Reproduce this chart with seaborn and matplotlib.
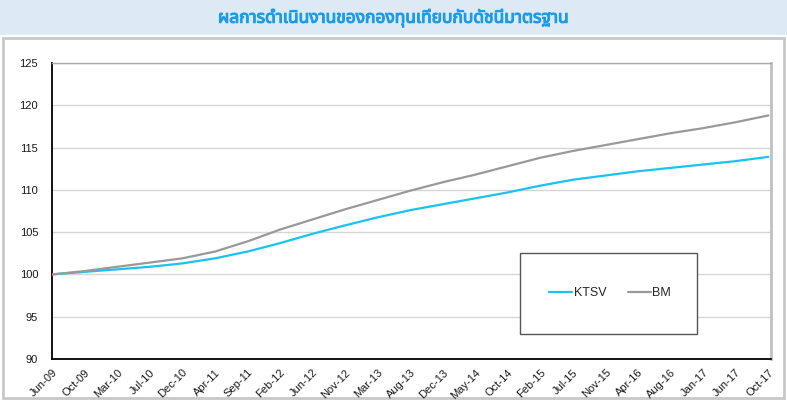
import numpy as np
import pandas as pd
import matplotlib
matplotlib.use("Agg")
import matplotlib.pyplot as plt
import matplotlib.patheffects as pe
import seaborn as sns
from matplotlib import font_manager
from matplotlib.patches import Rectangle
from matplotlib.lines import Line2D

# ---------------- data ----------------
title_text = "ผลการดำเนินงานของกองทุนเทียบกับดัชนีมาตรฐาน"
tick_labels = ["Jun-09", "Oct-09", "Mar-10", "Jul-10", "Dec-10", "Apr-11", "Sep-11",
               "Feb-12", "Jun-12", "Nov-12", "Mar-13", "Aug-13", "Dec-13", "May-14",
               "Oct-14", "Feb-15", "Jul-15", "Nov-15", "Apr-16", "Aug-16", "Jan-17",
               "Jun-17", "Oct-17"]
ktsv = [100.0, 100.3, 100.6, 100.9, 101.3, 101.9, 102.7, 103.7, 104.8, 105.8, 106.75,
        107.6, 108.3, 109.0, 109.7, 110.5, 111.2, 111.7, 112.2, 112.6, 113.0, 113.4, 113.9]
bm = [100.0, 100.4, 100.9, 101.4, 101.9, 102.7, 103.9, 105.3, 106.5, 107.7, 108.8,
      109.9, 110.9, 111.8, 112.8, 113.8, 114.6, 115.3, 116.0, 116.7, 117.3, 118.0, 118.8]
series_names = ["KTSV", "BM"]
colors = {"KTSV": "#19c3f0", "BM": "#999999"}

# ---------------- fonts ----------------
def find_thai_font():
    try:
        from fontTools.ttLib import TTFont
    except Exception:
        return None
    found = []
    for f in font_manager.fontManager.ttflist:
        try:
            fnt = TTFont(f.fname, fontNumber=0, lazy=True)
            cmap = fnt.getBestCmap()
            if cmap and 0x0E01 in cmap and 0x0E32 in cmap:
                found.append(f.name)
        except Exception:
            continue
    if not found:
        return None
    for pref in ["Noto Sans Thai", "Noto Sans Thai UI", "Loma", "Garuda", "Tahoma"]:
        if pref in found:
            return pref
    return found[0]

sns.set_theme(style="white")
thai = find_thai_font()
fam = ["Liberation Sans"] + ([thai] if thai else []) + ["DejaVu Sans"]
plt.rcParams["font.family"] = fam

# ---------------- data frame ----------------
x = np.arange(len(tick_labels))
df = pd.concat([
    pd.DataFrame({"x": x, "value": ktsv, "series": "KTSV"}),
    pd.DataFrame({"x": x, "value": bm, "series": "BM"}),
])

W, H = 787, 405
fig = plt.figure(figsize=(W / 100, H / 100), dpi=100)
fig.patch.set_facecolor("white")

# title band and outer border
fig.patches.append(Rectangle((0, 1 - 35 / H), 1, 35 / H, transform=fig.transFigure,
                             facecolor="#dde9f5", edgecolor="none", zorder=-5))
fig.patches.append(Rectangle((2.5 / W, 1 - 398 / H), (784 - 2.5) / W, (398 - 38) / H,
                             transform=fig.transFigure, facecolor="white",
                             edgecolor="#c8c8c8", linewidth=2, zorder=-4))
title_color = "#1d9be4"
fig.text(0.5, 1 - 18 / H, title_text, ha="center", va="center", fontsize=12.5,
         fontweight="bold", color=title_color, family=[thai or "DejaVu Sans", "DejaVu Sans"],
         path_effects=[pe.withStroke(linewidth=0.8, foreground=title_color)])

ax = fig.add_axes([52 / W, 1 - 359 / H, (771 - 52) / W, (359 - 63) / H])
sns.lineplot(data=df, x="x", y="value", hue="series", palette=colors, ax=ax,
             linewidth=1.6, legend=False, zorder=3)
ax.set_xlim(0, 22.08)
ax.set_ylim(90, 125)
ax.set_yticks(np.arange(90, 126, 5))
ax.set_xticks(x)
ax.set_xticklabels(tick_labels, rotation=45, ha="right", rotation_mode="anchor")
ax.set_xlabel("")
ax.set_ylabel("")
ax.yaxis.grid(True, color="#d6d6d6", linewidth=1)
ax.set_axisbelow(True)
for s in ["left", "bottom"]:
    ax.spines[s].set_color("black")
    ax.spines[s].set_linewidth(1.3)
ax.spines["top"].set_color("#a8a8a8")
ax.spines["top"].set_linewidth(1)
ax.spines["right"].set_color("#c0c0c0")
ax.spines["right"].set_linewidth(2)
ax.tick_params(axis="both", direction="out", length=4, width=1, color="black",
               labelsize=8, labelcolor="#1a1a1a", pad=2)
ax.tick_params(axis="y", pad=6)

# legend box
ax.add_patch(Rectangle((520 / W, 1 - 334 / H), (697 - 520) / W, (334 - 253) / H,
                       transform=fig.transFigure, facecolor="white", edgecolor="#555555",
                       linewidth=1, zorder=5, clip_on=False))
handles = [Line2D([], [], color=colors[n], linewidth=1.6) for n in series_names]
leg = ax.legend(handles, series_names, loc="center", ncol=2,
                bbox_to_anchor=(610 / W, 1 - 293.5 / H), bbox_transform=fig.transFigure,
                frameon=False, fontsize=9, handlelength=1.85, handletextpad=0.1,
                columnspacing=1.7)
leg.set_zorder(6)

fig.savefig("out.png", dpi=100)
